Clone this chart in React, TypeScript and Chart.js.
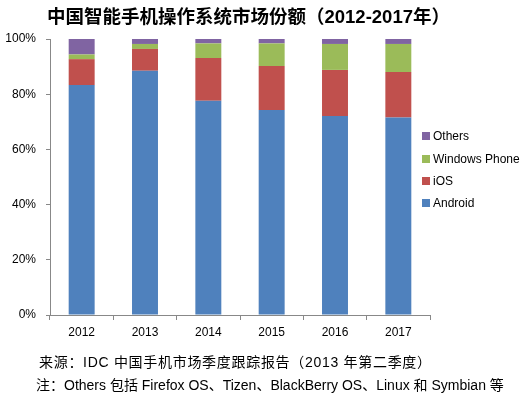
import React, { useEffect, useRef } from "react";
import { Chart, registerables } from "chart.js";

Chart.register(...registerables);

const categories = ["2012", "2013", "2014", "2015", "2016", "2017"];
const android = [83.3, 88.5, 77.6, 74.3, 72.1, 71.6];
const ios = [9.4, 7.9, 15.5, 15.9, 16.7, 16.4];
const windowsPhone = [1.7, 1.8, 5.3, 8.2, 9.4, 10.2];
const others = [5.6, 1.8, 1.6, 1.6, 1.8, 1.8];
const seriesNames = ["Android", "iOS", "Windows Phone", "Others"];
const seriesColors = ["#4F81BD", "#C0504D", "#9BBB59", "#8064A2"];
const yTicks = [0, 20, 40, 60, 80, 100];

const titleText = "中国智能手机操作系统市场份额（2012-2017年）";
const sourceText = "来源：IDC 中国手机市场季度跟踪报告（2013 年第二季度）";
const noteText = "注：Others 包括 Firefox OS、Tizen、BlackBerry OS、Linux 和 Symbian 等";

const FONT = "'Liberation Sans', Arial, 'Noto Sans CJK SC', sans-serif";

export default function App() {
  const canvasRef = useRef<HTMLCanvasElement | null>(null);

  useEffect(() => {
    const seriesData = [android, ios, windowsPhone, others];
    const chart = new Chart(canvasRef.current as HTMLCanvasElement, {
      type: "bar",
      data: {
        labels: categories,
        datasets: seriesNames.map((name, i) => ({
          label: name,
          data: seriesData[i],
          backgroundColor: seriesColors[i],
          borderWidth: 0,
          categoryPercentage: 1,
          barPercentage: 0.41,
        })),
      },
      options: {
        animation: false,
        responsive: false,
        devicePixelRatio: 1,
        layout: { padding: { left: 0, right: 102, top: 39, bottom: 54 } },
        plugins: {
          legend: { display: false },
          title: { display: false },
          tooltip: { enabled: false },
        },
        scales: {
          x: {
            stacked: true,
            afterFit: (s: any) => {
              s.height = 30;
            },
            grid: {
              drawOnChartArea: false,
              drawTicks: true,
              tickLength: 5,
              color: "#888888",
              offset: true,
            },
            border: { color: "#888888", width: 1 },
            ticks: {
              color: "#000000",
              padding: 5,
              font: { family: FONT, size: 12 },
            },
          },
          y: {
            stacked: true,
            min: 0,
            max: 100,
            afterFit: (s: any) => {
              s.width = 50;
            },
            afterBuildTicks: (s: any) => {
              s.ticks = yTicks.map((v) => ({ value: v }));
            },
            grid: {
              drawOnChartArea: false,
              drawTicks: true,
              tickLength: 4,
              color: "#888888",
            },
            border: { color: "#888888", width: 1 },
            ticks: {
              color: "#000000",
              padding: 10,
              font: { family: FONT, size: 12 },
              callback: (v: any) => `${v}%`,
            },
          },
        },
      },
    });
    return () => chart.destroy();
  }, []);

  const legendOrder = [3, 2, 1, 0];

  return (
    <div
      style={{
        position: "absolute",
        left: 0,
        top: 0,
        width: 532,
        height: 399,
        background: "#ffffff",
        fontFamily: FONT,
        overflow: "hidden",
      }}
    >
      <canvas
        ref={canvasRef}
        width={532}
        height={399}
        style={{ position: "absolute", left: 0, top: 0, display: "block" }}
      />
      <div
        style={{
          position: "absolute",
          left: 47,
          top: 5,
          fontSize: 18.5,
          fontWeight: "bold",
          color: "#000",
          whiteSpace: "nowrap",
          lineHeight: "24px",
        }}
      >
        {titleText}
      </div>
      <div
        style={{
          position: "absolute",
          left: 422,
          top: 125,
          fontSize: 12,
          color: "#000",
          whiteSpace: "nowrap",
        }}
      >
        {legendOrder.map((i) => (
          <div
            key={seriesNames[i]}
            style={{ display: "flex", alignItems: "center", height: 22.4 }}
          >
            <span
              style={{
                display: "inline-block",
                width: 8,
                height: 8,
                background: seriesColors[i],
                marginRight: 3,
              }}
            />
            <span>{seriesNames[i]}</span>
          </div>
        ))}
      </div>
      <div
        style={{
          position: "absolute",
          left: 39,
          top: 352,
          fontSize: 14,
          letterSpacing: 0.7,
          color: "#000",
          whiteSpace: "nowrap",
          lineHeight: "20px",
        }}
      >
        {sourceText}
      </div>
      <div
        style={{
          position: "absolute",
          left: 36,
          top: 375,
          fontSize: 14,
          color: "#000",
          whiteSpace: "nowrap",
          lineHeight: "20px",
        }}
      >
        {noteText}
      </div>
    </div>
  );
}
